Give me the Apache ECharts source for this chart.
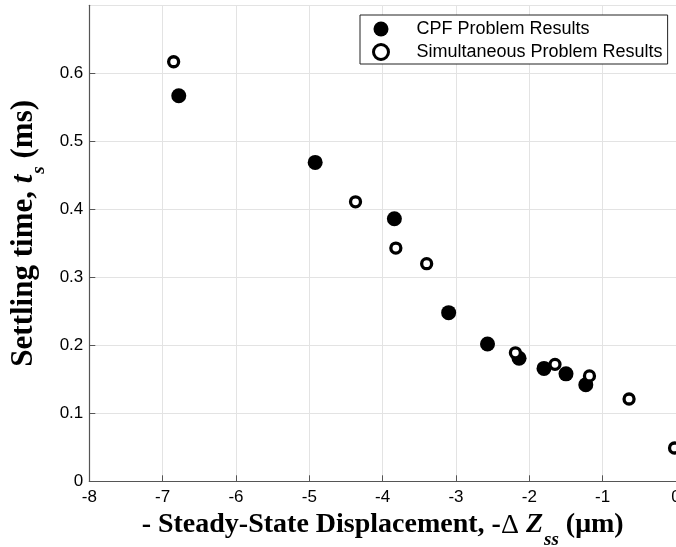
<!DOCTYPE html>
<html>
<head>
<meta charset="utf-8">
<script src="https://cdn.jsdelivr.net/npm/echarts@6/dist/echarts.min.js"></script>
<style>
  html, body { margin: 0; padding: 0; background: #fff; }
  #chart { width: 676px; height: 547px; }
</style>
</head>
<body>
<div id="chart"></div>
<script>
// Settling time vs. steady-state displacement for the two problem formulations
const cpfX = [-6.78, -4.92, -3.84, -3.10, -2.57, -2.14, -1.80, -1.50, -1.23];
const cpfY = [0.567, 0.469, 0.386, 0.248, 0.202, 0.181, 0.166, 0.158, 0.142];
const simX = [-6.85, -4.37, -3.82, -3.40, -2.19, -1.65, -1.18, -0.64, -0.02];
const simY = [0.617, 0.411, 0.343, 0.320, 0.189, 0.172, 0.155, 0.121, 0.049];
const seriesNames = ['CPF Problem Results', 'Simultaneous Problem Results'];

const pairs = (xs, ys) => xs.map((x, i) => [x, ys[i]]);

const serif = 'Liberation Serif, Times New Roman, serif';
const sans = 'Liberation Sans, Arial, sans-serif';
const axisGray = '#555';

function titleRich(size) {
  return {
    a: { fontFamily: serif, fontWeight: 'bold', fontSize: size, color: '#000', verticalAlign: 'middle' },
    d: { fontFamily: serif, fontWeight: 'normal', fontSize: size, color: '#000', verticalAlign: 'middle' },
    i: { fontFamily: serif, fontWeight: 'bold', fontStyle: 'italic', fontSize: size, color: '#000', verticalAlign: 'middle' },
    sub: { fontFamily: serif, fontWeight: 'bold', fontStyle: 'italic', fontSize: 19, color: '#000', verticalAlign: 'middle', padding: [30, 0, 0, 1] }
  };
}

const chart = echarts.init(document.getElementById('chart'), null, { renderer: 'canvas' });
chart.setOption({
  animation: false,
  backgroundColor: '#fff',
  grid: { left: 89.3, right: 0, top: 5.3, bottom: 65.7, containLabel: false, outerBoundsMode: 'none' },
  legend: {
    left: 360,
    top: 15,
    orient: 'vertical',
    itemWidth: 15,
    itemHeight: 15,
    itemGap: 5,
    padding: [5, 5, 3, 12],
    borderColor: '#222',
    borderWidth: 1,
    backgroundColor: '#fff',
    textStyle: { fontFamily: sans, fontSize: 18, color: '#000', padding: [0, 0, 0, 23] },
    data: [
      { name: seriesNames[0], icon: 'circle', itemStyle: { color: '#000', borderWidth: 0 } },
      { name: seriesNames[1], icon: 'circle', itemStyle: { color: '#fff', borderColor: '#000', borderWidth: 3 } }
    ]
  },
  xAxis: {
    type: 'value',
    min: -8, max: 0, interval: 1,
    name: '{a|- Steady-State Displacement, -}{d|Δ }{i|Z}{sub|ss}{a| (μm)}',
    nameLocation: 'middle',
    nameGap: 3,
    nameTextStyle: { rich: titleRich(28) },
    axisLine: { show: true, onZero: false, lineStyle: { color: axisGray, width: 1.2 } },
    axisTick: { show: true, inside: true, length: 6, lineStyle: { color: axisGray } },
    axisLabel: { fontFamily: sans, fontSize: 17, color: '#000', margin: 8 },
    splitLine: { show: true, lineStyle: { color: '#e3e3e3', width: 1 } }
  },
  yAxis: {
    type: 'value',
    min: 0, max: 0.7, interval: 0.1,
    name: '{a|Settling time, }{i|t}{sub|s}{a| (ms)}',
    nameLocation: 'middle',
    nameRotate: 90,
    nameGap: 40,
    nameTextStyle: { rich: titleRich(31), padding: [0, 0, 0, 20] },
    axisLine: { show: true, onZero: false, lineStyle: { color: axisGray, width: 1.2 } },
    axisTick: { show: true, inside: true, length: 6, lineStyle: { color: axisGray } },
    axisLabel: {
      fontFamily: sans, fontSize: 17, color: '#000', margin: 6,
      showMaxLabel: false,
      formatter: v => (Math.round(v * 10) / 10).toString()
    },
    splitLine: { show: true, lineStyle: { color: '#e3e3e3', width: 1 } }
  },
  series: [
    {
      name: seriesNames[0],
      type: 'scatter',
      symbol: 'circle',
      symbolSize: 15,
      clip: false,
      itemStyle: { color: '#000', opacity: 1 },
      data: pairs(cpfX, cpfY),
      z: 3
    },
    {
      name: seriesNames[1],
      type: 'scatter',
      symbol: 'circle',
      symbolSize: 10,
      clip: false,
      itemStyle: { color: '#fff', borderColor: '#000', borderWidth: 3.3, opacity: 1 },
      data: pairs(simX, simY),
      z: 4
    }
  ]
});
</script>
</body>
</html>
